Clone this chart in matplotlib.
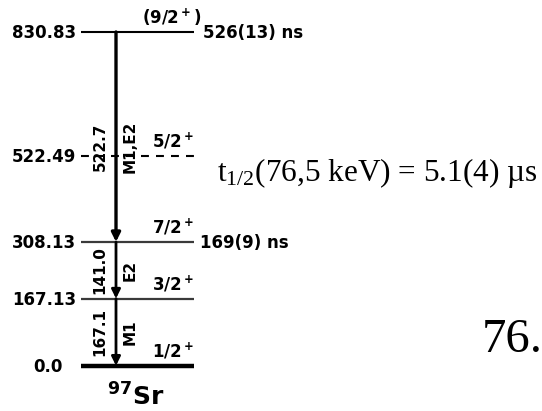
import matplotlib
matplotlib.use("Agg")
import matplotlib.pyplot as plt

plt.rcParams['mathtext.default'] = 'regular'
plt.rcParams['font.family'] = ['DejaVu Sans']

# level scheme of 97Sr
levels = [0.0, 167.13, 308.13, 522.49, 830.83]
level_labels = ['0.0', '167.13', '308.13', '522.49', '830.83']
spins = ['1/2$^+$', '3/2$^+$', '7/2$^+$', '5/2$^+$', '(9/2$^+$)']
half_lives = ['', '', '169(9) ns', '', '526(13) ns']

gamma_from = [830.83, 308.13, 167.13]
gamma_to = [308.13, 167.13, 0.0]
gamma_energies = ['522.7', '141.0', '167.1']
gamma_types = ['M1,E2', 'E2', 'M1']

nucleus = r'$^{97}$Sr'
isomer_note = r't$_{1/2}$(76,5 keV) = 5.1(4) µs'
isomer_energy = '76.'

W, H = 542, 411
fig = plt.figure(figsize=(W / 100, H / 100), dpi=100)
ax = fig.add_axes([0, 0, 1, 1])
ax.set_xlim(0, W)
ax.set_ylim(-112.8, 910.4)
ax.axis('off')

x_left, x_right, x_gamma = 81, 194, 116

for e, lab, sp, hl in zip(levels, level_labels, spins, half_lives):
    if e == 0.0:
        ax.plot([x_left, x_right], [e, e], color='black', lw=3.2, solid_capstyle='butt')
    elif sp.startswith('5/2'):
        ax.plot([x_left, x_right], [e, e], color='black', lw=1.5, ls=(0, (3.8, 3.4)))
    elif sp.startswith('('):
        ax.plot([x_left, x_right], [e, e], color='black', lw=1.5, solid_capstyle='butt')
    else:
        ax.plot([x_left, x_right], [e, e], color='#3a3a3a', lw=1.6, solid_capstyle='butt')

    xl = 63 if e == 0.0 else 76
    ax.annotate(lab, (xl, e), xytext=(0, -4.4), textcoords='offset points',
                ha='right', va='baseline', fontsize=12, fontweight='bold')
    xs = 142 if sp.startswith('(') else 152
    ax.annotate(sp, (xs, e), xytext=(0, 6), textcoords='offset points',
                ha='left', va='baseline', fontsize=12, fontweight='bold')
    if hl:
        xh = 203 if sp.startswith('(') else 200
        ax.annotate(hl, (xh, e), xytext=(0, -4.4), textcoords='offset points',
                    ha='left', va='baseline', fontsize=12, fontweight='bold')

for k, (ef, et, eg, mult) in enumerate(zip(gamma_from, gamma_to, gamma_energies, gamma_types)):
    lw = 2.4 if k == 0 else 2.0
    ax.annotate('', xy=(x_gamma, et), xytext=(x_gamma, ef),
                arrowprops=dict(arrowstyle='-|>', color='black', lw=lw,
                                mutation_scale=13, shrinkA=0, shrinkB=0))
    ym = 545 if k == 0 else (ef + et) / 2
    ax.annotate(eg, (x_gamma, ym), xytext=(-6, 0), textcoords='offset points',
                ha='right', va='center', rotation=90, fontsize=11, fontweight='bold')
    ax.annotate(mult, (x_gamma, ym), xytext=(4.5, 0), textcoords='offset points',
                ha='left', va='center', rotation=90, fontsize=11, fontweight='bold')

# free texts placed in figure pixels (from top-left)
fig.text(136 / W, 1 - 406 / H, nucleus, ha='center', va='baseline', fontsize=18, fontweight='bold')
fig.text(217 / W, 1 - 181 / H, isomer_note, ha='left', va='baseline',
         fontsize=22.5, family=['Liberation Serif', 'DejaVu Serif'])
fig.text(482 / W, 1 - 352 / H, isomer_energy, ha='left', va='baseline',
         fontsize=35, family=['Liberation Serif', 'DejaVu Serif'])

fig.savefig('out.png', dpi=100)
